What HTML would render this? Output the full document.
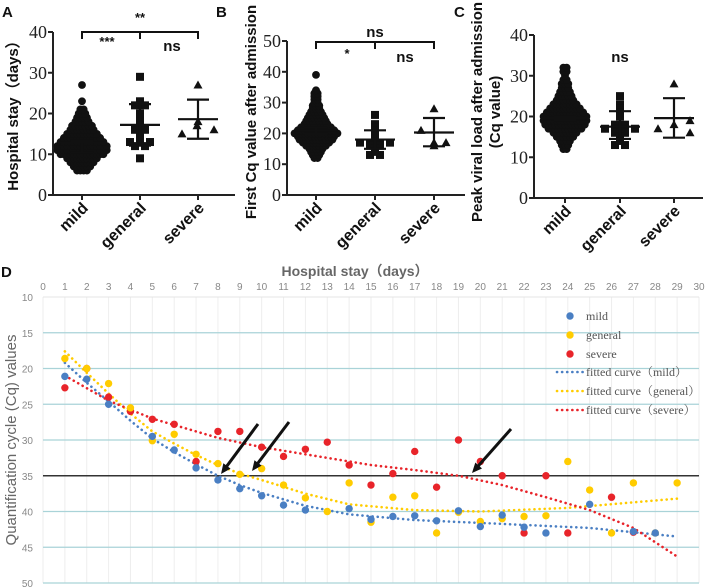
<!DOCTYPE html>
<html><head><meta charset="utf-8"><style>
html,body{margin:0;padding:0;background:#fff;}
svg{display:block;font-family:"Liberation Sans",sans-serif;}
</style></head><body>
<svg id="fig" width="706" height="588" viewBox="0 0 706 588"></svg>
<script>
// ---------- Panel data ----------
const groups = ['mild','general','severe'];
// Panel A: hospital stay (days) — mild counts per integer value
const aMildVals = [6,7,8,9,10,11,12,13,14,15,16,17,18,19,20,21,23,27];
const aMildCounts = [4,6,8,10,14,16,16,14,12,10,8,7,5,4,3,2,1,1];
const aGeneral = [29,23,22,22,20,19,18,17,16,16,15,14,13,13,13,12,12,9];
const aSevere = [27,18,17,16,15];
const aStats = [[12.9,10.5,13.3],[17.2,12.1,22.3],[18.6,13.8,23.4]];
// Panel B: first Cq value
const bMildVals = [12,13,14,15,16,17,18,19,20,21,22,23,24,25,26,27,28,29,30,31,32,33,34,39];
const bMildCounts = [2,3,4,5,7,9,11,12,14,12,10,8,7,6,5,4,3,3,2,2,2,2,1,1];
const bGeneral = [26,23,22,21,20,19,18,17,17,17,17,16,16,15,14,13,13];
const bSevere = [28,21,17,17,16];
const bStats = [[21,20,22],[18,15,21],[20.3,15.8,25]];
// Panel C: peak viral load
const cMildVals = [12,13,14,15,16,17,18,19,20,21,22,23,24,25,26,27,28,29,30,31,32];
const cMildCounts = [2,3,4,6,8,11,13,14,14,12,10,8,6,5,4,3,3,2,1,2,2];
const cGeneral = [25,23,22,21,20,18,18,17,17,17,17,16,16,15,14,13,13];
const cSevere = [28,19,18,17,16];
const cStats = [[19.5,19,20],[17.5,14.5,21.3],[19.6,14.8,24.5]];

// Panel D: Cq vs hospital stay
const dMildDays = [1,2,3,5,6,7,8,9,10,11,12,14,15,16,17,18,19,20,21,22,23,25,27,28];
const dMildCq = [21.1,21.5,25,29.5,31.4,33.9,35.6,36.8,37.8,39.1,39.8,39.6,41.1,40.7,40.6,41.3,39.9,42.1,40.5,42.2,43,39,42.8,43];
const dGenDays = [1,2,3,4,5,6,7,8,9,10,11,12,13,14,15,16,17,18,19,20,21,22,23,24,25,26,27,28,29];
const dGenCq = [18.6,20,22.1,25.5,30.1,29.2,32,33.3,34.8,34,36.3,38.1,40,36,41.5,38,37.8,43,40.1,41.4,41,40.7,40.6,33,37,43,36,43,36];
const dSevDays = [1,2,3,4,5,6,7,8,9,10,11,12,13,14,15,16,17,18,19,20,21,22,23,24,26,27];
const dSevCq = [22.7,20,24,26,27.1,27.8,33,28.8,28.8,31,32.3,31.3,30.3,33.5,36.3,34.7,31.6,36.6,30,33,35,43,35,43,38,42.9];
const fitMildDays = [1,2,3,4,5,6,7,8,9,10,12,14,17,20,25,29];
const fitMildCq = [19.2,22,24.6,27.3,29.8,31.7,33.4,35,36.3,37.4,39.2,40.4,41.2,41.6,42.3,43.5];
const fitGenDays = [1,2,3,4,5,6,7,8,9,10,12,14,17,20,24,29];
const fitGenCq = [17.6,20.6,23.5,26.3,28.8,30.5,32.1,33.5,34.7,35.6,37.5,39,39.8,40,39.5,38.2];
const fitSevDays = [1,3,5,8,10,12,15,17,19,21,23,25,27,29];
const fitSevCq = [21,24.5,27,29.7,31,32,33.5,34.2,35,36.3,38,39.8,42.3,46.3];

const NS='http://www.w3.org/2000/svg';
const svg=document.getElementById('fig');
function el(tag,attrs,parent){const e=document.createElementNS(NS,tag);for(const k in attrs)e.setAttribute(k,attrs[k]);(parent||svg).appendChild(e);return e;}
function txt(s,attrs,parent){const e=el('text',attrs,parent);e.textContent=s;return e;}

// ---------- scatter panels ----------
function panel(cfg){
  const g=el('g',{});
  
  
  const y=v=>cfg.y0-(v/cfg.max)*(cfg.y0-cfg.yTop);
  const ax=el('path',{d:`M${cfg.ax},${cfg.yTop} V${cfg.y0} H${cfg.xEnd}`,stroke:'#222','stroke-width':2,fill:'none'},g);
  
  
  for(const t of cfg.ticks){
    el('line',{x1:cfg.ax-5,x2:cfg.ax,y1:y(t),y2:y(t),stroke:'#222','stroke-width':2},g);
    const l=txt(String(t),{x:cfg.ax-6,y:y(t)+6,'text-anchor':'end','font-family':'Liberation Serif,serif','font-size':18,fill:'#222'},g);
    
    
  }
  groups.forEach((gname,i)=>{
    const cx=cfg.cats[i];
    el('line',{x1:cx,x2:cx,y1:cfg.y0,y2:cfg.y0+5,stroke:'#222','stroke-width':2},g);
    const l=txt(gname,{x:0,y:0,'text-anchor':'end','font-weight':'bold','font-size':16,fill:'#111',transform:`translate(${cx+7},${cfg.y0+14}) rotate(-45)`},g);
    
    
  });
  // mild swarm
  cfg.mildVals.forEach((v,i)=>{
    const n=cfg.mildCounts[i];
    for(let k=0;k<n;k++){
      const off=(k-(n-1)/2)*3.3;
      const c=el('circle',{cx:cfg.cats[0]+off,cy:y(v),r:3.9,fill:'#111'},g);
      
      
    }
  });
  function spread(vals){const seen={};return vals.map(v=>{const key=Math.round(v*cfg.k);seen[key]=(seen[key]||0)+1;return seen[key]-1;});}
  const gi=spread(cfg.general);
  const gcnt={};cfg.general.forEach(v=>{const key=Math.round(v*cfg.k);gcnt[key]=(gcnt[key]||0)+1;});
  cfg.general.forEach((v,i)=>{
    const n=gcnt[Math.round(v*cfg.k)];
    const off=(gi[i]-(n-1)/2)*10;
    const r=el('rect',{x:cfg.cats[1]+off-4,y:y(v)-4,width:8,height:8,fill:'#111'},g);
    
    
  });
  const sOff=cfg.sevOff;
  cfg.severe.forEach((v,i)=>{
    const x=cfg.cats[2]+sOff[i], yy=y(v);
    const t=el('path',{d:`M${x},${yy-4.5} L${x+4.5},${yy+3.5} L${x-4.5},${yy+3.5} Z`,fill:'#111'},g);
    
    
  });
  cfg.stats.forEach((s,i)=>{
    const cx=cfg.cats[i], w=i==0?22:20;
    const eb=el('path',{d:`M${cx-w},${y(s[0])} H${cx+w} M${cx-11},${y(s[1])} H${cx+11} M${cx-11},${y(s[2])} H${cx+11} M${cx},${y(s[1])} V${y(s[2])}`,stroke:'#111','stroke-width':2.2,fill:'none'},g);
    
    
  });
  return g;
}
panel({name:'panel-a',ax:53,y0:195,yTop:32,max:40,xEnd:235,ticks:[0,10,20,30,40],cats:[82,140,198],k:1,
  mildVals:aMildVals,mildCounts:aMildCounts,general:aGeneral,severe:aSevere,stats:aStats,sevOff:[0,0,-1,16,-16]});
panel({name:'panel-b',ax:287,y0:195,yTop:41,max:50,xEnd:465,ticks:[0,10,20,30,40,50],cats:[316,375,434],k:1,
  mildVals:bMildVals,mildCounts:bMildCounts,general:bGeneral,severe:bSevere,stats:bStats,sevOff:[0,-13,12,0,0]});
panel({name:'panel-c',ax:534,y0:198,yTop:35,max:40,xEnd:703,ticks:[0,10,20,30,40],cats:[565,620,674],k:1,
  mildVals:cMildVals,mildCounts:cMildCounts,general:cGeneral,severe:cSevere,stats:cStats,sevOff:[0,16,0,-16,16]});

// brackets & significance
function bracket(x1,x2,xm,y){const p=el('path',{d:`M${x1},${y+7} V${y} H${x2} V${y+7} M${xm},${y} V${y+7}`,stroke:'#111','stroke-width':2,fill:'none'});}
bracket(82,198,140,32); bracket(316,434,375,42);
const sig=[['**',140,22],['***',107,46],['ns',172,51],['ns',375,37],['*',347,58],['ns',405,62],['ns',620,62]];
sig.forEach(s=>{const t=txt(s[0],{x:s[1],y:s[2],'text-anchor':'middle','font-size':s[0]=='ns'?15:13,'font-weight':'bold',fill:'#111'});});
// panel letters and titles
[['A',2,17],['B',216,17],['C',454,17],['D',1,277]].forEach(l=>{const t=txt(l[0],{x:l[1],y:l[2],'font-weight':'bold','font-size':15,fill:'#111'});});
[['Hospital stay（days）',18,112],['First Cq value after admission',256,112],['Peak viral load after admission',482,112],['(Cq value)',500,112]].forEach(a=>{
  const t=txt(a[0],{x:0,y:0,'text-anchor':'middle','font-weight':'bold','font-size':15,fill:'#111',transform:`translate(${a[1]},${a[2]}) rotate(-90)`});
  
});

// ---------- Panel D ----------
const X0=43,X1=699,Y0=297,Y1=583;
const dx=d=>X0+d*(X1-X0)/30, dy=v=>Y0+(v-10)*(Y1-Y0)/40;
const gd=el('g',{});


for(let d=0;d<=30;d++){
  el('line',{x1:dx(d),x2:dx(d),y1:Y0,y2:Y1,stroke:'#eeeeee','stroke-width':1},gd);
  const t=txt(String(d),{x:dx(d),y:290,'text-anchor':'middle','font-size':10,fill:'#888'},gd);
  
}
el('line',{x1:X0,x2:X1,y1:Y0,y2:Y0,stroke:'#e4e4e4','stroke-width':1},gd);
for(let v=10;v<=50;v+=5){
  if(v>10){const gl=el('line',{x1:X0,x2:X1,y1:dy(v),y2:dy(v),stroke:v==35?'#333':'#a9d3d8','stroke-width':v==35?1.5:1.3},gd);}
  const t=txt(String(v),{x:33,y:dy(v)+4,'text-anchor':'end','font-size':10,fill:'#888'},gd);
  
}
const tt=txt('Hospital stay（days）',{x:355,y:276,'text-anchor':'middle','font-weight':'bold','font-size':14,fill:'#666','font-family':'Liberation Sans,Noto Sans CJK SC,sans-serif'},gd);

const yt=txt('Quantification cycle (Cq) values',{x:0,y:0,'text-anchor':'middle','font-size':15,fill:'#666',transform:'translate(16,440) rotate(-90)'},gd);

const COL={mild:'#4a7fc3',general:'#ffcc00',severe:'#e8242a'};
function fit(days,vals,col,name){
  const p=el('polyline',{points:days.map((d,i)=>dx(d)+','+dy(vals[i])).join(' '),fill:'none',stroke:col,'stroke-width':2.6,'stroke-dasharray':'0.1 5','stroke-linecap':'round'},gd);
  
}
fit(fitMildDays,fitMildCq,COL.mild,'fitted-curve-mild');
fit(fitGenDays,fitGenCq,COL.general,'fitted-curve-general');
fit(fitSevDays,fitSevCq,COL.severe,'fitted-curve-severe');
function pts(days,vals,col,name){days.forEach((d,i)=>{const c=el('circle',{cx:dx(d),cy:dy(vals[i]),r:3.7,fill:col},gd);});}
pts(dSevDays,dSevCq,COL.severe,'severe-point');
pts(dGenDays,dGenCq,COL.general,'general-point');
pts(dMildDays,dMildCq,COL.mild,'mild-point');
// arrows
[[258,424,221,474],[289,422,252,471],[511,429,472,473]].forEach(a=>{
  const ang=Math.atan2(a[3]-a[1],a[2]-a[0]);const L=11,W=0.42;
  const ar=el('g',{},gd);
  el('line',{x1:a[0],y1:a[1],x2:a[2]-Math.cos(ang)*6,y2:a[3]-Math.sin(ang)*6,stroke:'#111','stroke-width':3},ar);
  el('path',{d:`M${a[2]},${a[3]} L${a[2]-L*Math.cos(ang-W)},${a[3]-L*Math.sin(ang-W)} L${a[2]-L*Math.cos(ang+W)},${a[3]-L*Math.sin(ang+W)} Z`,fill:'#111'},ar);
});
// legend
const lg=el('g',{},gd);
[['mild',COL.mild,317],['general',COL.general,336],['severe',COL.severe,355]].forEach(e=>{
  const ge=el('g',{},lg);
  el('circle',{cx:570,cy:e[2]-1,r:3.7,fill:e[1]},ge);
  txt(e[0],{x:586,y:e[2]+3,'font-size':12,fill:'#555','font-family':'Liberation Serif,serif'},ge);
});
[['fitted curve（mild）',COL.mild,373],['fitted curve（general）',COL.general,392],['fitted curve（severe）',COL.severe,411]].forEach(e=>{
  const ge=el('g',{},lg);
  el('line',{x1:557,x2:584,y1:e[2]-1,y2:e[2]-1,stroke:e[1],'stroke-width':2.6,'stroke-dasharray':'0.1 5','stroke-linecap':'round'},ge);
  txt(e[0],{x:586,y:e[2]+3,'font-size':12,fill:'#555','font-family':'Liberation Serif,Noto Serif CJK SC,serif'},ge);
});
</script>
</body></html>
